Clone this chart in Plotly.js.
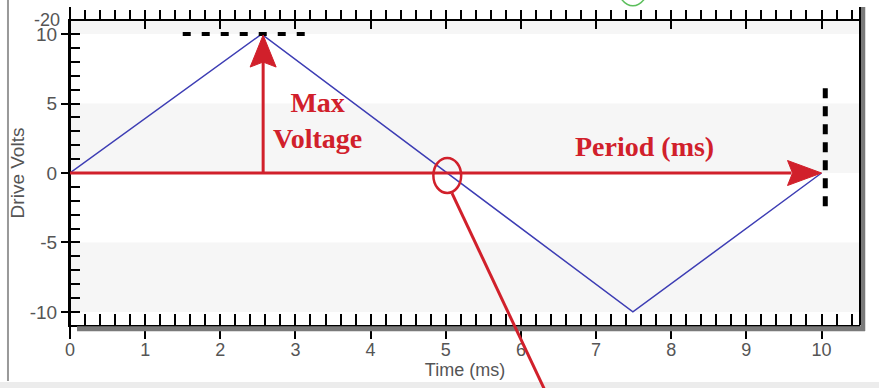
<!DOCTYPE html>
<html><head><meta charset="utf-8">
<script src="https://cdn.plot.ly/plotly-3.0.1.min.js"></script>
<style>html,body{margin:0;padding:0;background:#fff}#chart{width:879px;height:388px}</style>
</head><body><div id="chart"></div>
<script>
// ---- data ----
const timeMs = [0, 2.55, 7.49, 10];
const driveVolts = [0, 10, -10, 0];
const xTickVals = [0, 1, 2, 3, 4, 5, 6, 7, 8, 9, 10];
const xTickText = ['0', '1', '2', '3', '4', '5', '6', '7', '8', '9', '10'];
const yTickVals = [-10, -5, 0, 5, 10];
const yTickText = ['-10', '-5', '0', '5', '10'];
const xTitle = 'Time (ms)';
const yTitle = 'Drive Volts';
const labelMax = 'Max<br>Voltage';
const labelPeriod = 'Period (ms)';
const strayLabel = '-20';

// ---- styling ----
const RED = '#d1202b';
const BLUE = '#3d3db4';
const TXT = '#555555';
const SANS = 'Liberation Sans, Arial, sans-serif';
const SERIF = 'Liberation Serif, Times New Roman, serif';
const XR = [0, 10.512];
const YR = [-10.94, 10.94];

const peakT = timeMs[1], peakV = driveVolts[1];
const endT = timeMs[timeMs.length - 1];
const zeroT = (timeMs[1] + timeMs[2]) / 2;

const traces = [
  {x: timeMs, y: driveVolts, type: 'scatter', mode: 'lines',
   line: {color: BLUE, width: 1.5}, hoverinfo: 'skip'},
  // helper traces so the overlay tick axes get drawn
  {x: [null], y: [null], xaxis: 'x2', yaxis: 'y', type: 'scatter', mode: 'lines', hoverinfo: 'skip'},
  {x: [null], y: [null], xaxis: 'x3', yaxis: 'y', type: 'scatter', mode: 'lines', hoverinfo: 'skip'},
  {x: [null], y: [null], xaxis: 'x4', yaxis: 'y', type: 'scatter', mode: 'lines', hoverinfo: 'skip'},
  {x: [null], y: [null], xaxis: 'x', yaxis: 'y2', type: 'scatter', mode: 'lines', hoverinfo: 'skip'}
];

const shapes = [];
// alternating background bands
for (let v = -10; v <= YR[1]; v += 10) {
  shapes.push({type: 'rect', layer: 'below', xref: 'paper', yref: 'y',
    x0: 0, x1: 1, y0: v, y1: Math.min(v + 5, YR[1]),
    fillcolor: '#f6f6f6', line: {width: 0}});
}
// frame decorations
shapes.push({type: 'line', xref: 'paper', yref: 'paper', x0: 0.0089, x1: 1.0063, y0: -0.0125, y1: -0.0125,
  line: {color: '#7a7a7a', width: 5}});
shapes.push({type: 'line', xref: 'paper', yref: 'paper', x0: 1.0035, x1: 1.0035, y0: 1.046, y1: -0.02,
  line: {color: '#7a7a7a', width: 5}});
shapes.push({type: 'line', xref: 'paper', yref: 'paper', x0: 1, x1: 1, y0: 1.046, y1: 0,
  line: {color: '#000', width: 2}});
shapes.push({type: 'line', xref: 'paper', yref: 'paper', x0: 0, x1: 0, y0: 1.046, y1: -0.04,
  line: {color: '#000', width: 2}});
shapes.push({type: 'line', xref: 'paper', yref: 'paper', x0: -0.0785, x1: -0.0785, y0: 1.07, y1: -0.184,
  line: {color: '#999', width: 2}});
shapes.push({type: 'rect', xref: 'paper', yref: 'paper', x0: -0.09, x1: 1.03, y0: -0.1875, y1: -0.21,
  fillcolor: '#ececec', line: {width: 0}});
// faint green arc at top
shapes.push({type: 'circle', xref: 'paper', yref: 'paper', x0: 0.683, x1: 0.742, y0: 1.05, y1: 1.4,
  line: {color: '#5cbf5c', width: 1.5}});
// dashed markers
shapes.push({type: 'line', xref: 'x', yref: 'y', x0: 1.5, x1: 3.17, y0: peakV, y1: peakV,
  line: {color: '#000', width: 4, dash: '8px,11px'}});
shapes.push({type: 'line', xref: 'x', yref: 'y', x0: endT + 0.05, x1: endT + 0.05, y0: 6.1, y1: -2.9,
  line: {color: '#000', width: 5, dash: '10px,8px'}});
// red arrows
shapes.push({type: 'line', xref: 'x', yref: 'y', x0: 0, x1: endT - 0.4, y0: 0, y1: 0,
  line: {color: RED, width: 3}});
shapes.push({type: 'path', xref: 'x', yref: 'y', xsizemode: 'pixel', ysizemode: 'pixel',
  xanchor: endT, yanchor: 0, path: 'M0,0 L-34,12.5 L-29,0 L-34,-12.5 Z',
  fillcolor: RED, line: {color: RED, width: 1}});
shapes.push({type: 'line', xref: 'x', yref: 'y', x0: peakT + 0.02, x1: peakT + 0.02, y0: 0, y1: peakV - 2,
  line: {color: RED, width: 3}});
shapes.push({type: 'path', xref: 'x', yref: 'y', xsizemode: 'pixel', ysizemode: 'pixel',
  xanchor: peakT + 0.02, yanchor: peakV, path: 'M0,-1 L-13,-33 L0,-28 L13,-33 Z',
  fillcolor: RED, line: {color: RED, width: 1}});
// circle at zero crossing + pointer
shapes.push({type: 'circle', xref: 'x', yref: 'y', x0: zeroT - 0.185, x1: zeroT + 0.185, y0: -1.44, y1: 1.08,
  line: {color: RED, width: 2.5}});
shapes.push({type: 'line', xref: 'paper', yref: 'paper', x0: 0.4835, y0: 0.434, x1: 0.603, y1: -0.225,
  line: {color: RED, width: 3}});

const annotations = [
  {xref: 'x', yref: 'y', x: 3.29, y: 3.75, text: '<b>' + labelMax + '</b>', showarrow: false,
   font: {family: SERIF, size: 28, color: RED}, align: 'center'},
  {xref: 'x', yref: 'y', x: 7.65, y: 1.9, text: '<b>' + labelPeriod + '</b>', showarrow: false,
   font: {family: SERIF, size: 28, color: RED}},
  {xref: 'paper', yref: 'paper', x: -0.0095, y: 1.003, xanchor: 'right', yanchor: 'middle',
   text: strayLabel, showarrow: false, font: {family: SANS, size: 18, color: TXT}}
];

const tickCommon = {tickcolor: '#000', tickwidth: 2, showgrid: false, zeroline: false, fixedrange: true};

const layout = {
  width: 879, height: 388,
  margin: {l: 70, r: 19, t: 21, b: 63, pad: 0},
  paper_bgcolor: '#fff', plot_bgcolor: 'rgba(0,0,0,0)',
  showlegend: false,
  font: {family: SANS, color: TXT},
  xaxis: Object.assign({}, tickCommon, {
    range: XR, tickvals: xTickVals, ticktext: xTickText, ticks: 'outside', ticklen: 12,
    showline: true, linecolor: '#000', linewidth: 2, ticklabelstandoff: -5,
    tickfont: {size: 18, color: TXT},
    title: {text: xTitle, font: {size: 18, color: TXT}, standoff: 0}
  }),
  xaxis2: Object.assign({}, tickCommon, {
    range: XR, overlaying: 'x', anchor: 'y', side: 'bottom', dtick: 0.2, tick0: 0,
    ticks: 'inside', ticklen: 11, showticklabels: false, showline: false
  }),
  xaxis3: Object.assign({}, tickCommon, {
    range: XR, overlaying: 'x', anchor: 'y', side: 'top', dtick: 0.2, tick0: 0,
    ticks: 'outside', ticklen: 9, showticklabels: false, showline: true, linecolor: '#000', linewidth: 2
  }),
  xaxis4: Object.assign({}, tickCommon, {
    range: XR, overlaying: 'x', anchor: 'y', side: 'top', dtick: 1, tick0: 0,
    ticks: 'inside', ticklen: 8, showticklabels: false, showline: false
  }),
  yaxis: Object.assign({}, tickCommon, {
    range: YR, tickvals: yTickVals, ticktext: yTickText, ticks: 'outside', ticklen: 7,
    showline: true, linecolor: '#000', linewidth: 2,
    tickfont: {size: 19, color: TXT},
    title: {text: yTitle, font: {size: 19, color: TXT}, standoff: 0}
  }),
  yaxis2: Object.assign({}, tickCommon, {
    range: YR, overlaying: 'y', anchor: 'x', side: 'left', dtick: 1, tick0: 0,
    ticks: 'inside', ticklen: 10, showticklabels: false, showline: false
  }),
  shapes: shapes,
  annotations: annotations
};

Plotly.newPlot('chart', traces, layout, {displayModeBar: false, staticPlot: true});
</script>
</body></html>
